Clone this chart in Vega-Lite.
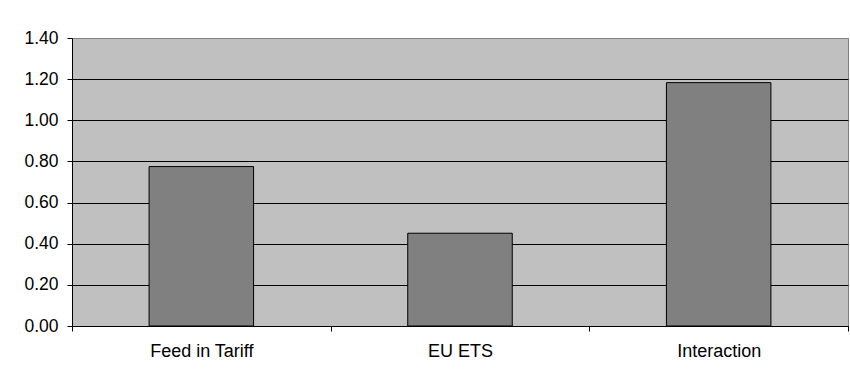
{
  "$schema": "https://vega.github.io/schema/vega-lite/v6.json",
  "autosize": {"type": "none"},
  "padding": {"left": 72, "top": 38, "right": 2, "bottom": 54},
  "width": 776,
  "height": 288,
  "background": "white",
  "data": {"values": [
    {"category": "Feed in Tariff", "value": 0.775},
    {"category": "EU ETS", "value": 0.451},
    {"category": "Interaction", "value": 1.183}
  ]},
  "mark": {"type": "bar", "color": "#808080", "stroke": "black", "strokeWidth": 1, "width": {"band": 0.404}},
  "encoding": {
    "x": {
      "field": "category", "type": "nominal", "sort": null,
      "scale": {"paddingInner": 0, "paddingOuter": 0},
      "axis": {"title": null, "labelAngle": 0, "tickBand": "extent", "tickSize": 5, "tickColor": "black", "domainColor": "black", "labelFont": "Liberation Sans", "labelFontSize": 18, "labelColor": "black", "labelPadding": 11}
    },
    "y": {
      "field": "value", "type": "quantitative",
      "scale": {"domain": [0, 1.4], "nice": false},
      "axis": {"title": null, "values": [0, 0.2, 0.4, 0.6, 0.8, 1.0, 1.2, 1.4], "format": ".2f", "grid": true, "gridColor": {"condition": {"test": "datum.value >= 1.39", "value": "#808080"}, "value": "black"}, "gridOpacity": 1, "tickSize": 5, "tickColor": "black", "domainColor": "black", "labelFont": "Liberation Sans", "labelFontSize": 17.5, "labelColor": "black", "labelPadding": 9}
    }
  },
  "config": {
    "view": {"fill": "#C0C0C0", "stroke": "#808080", "strokeWidth": 1}
  }
}
